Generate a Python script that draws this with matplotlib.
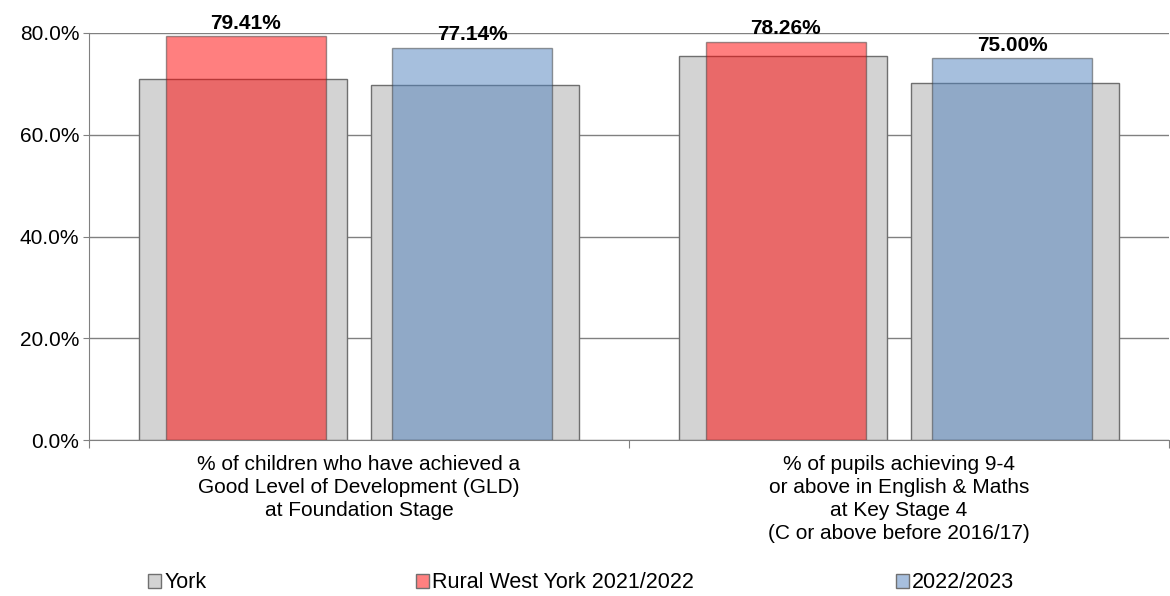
import numpy as np
import matplotlib
matplotlib.use("Agg")
import matplotlib.pyplot as plt
from matplotlib.patches import Patch
from matplotlib.ticker import FuncFormatter

plt.rcParams['font.family'] = ['Liberation Sans', 'DejaVu Sans']

categories = [
    "% of children who have achieved a\nGood Level of Development (GLD)\nat Foundation Stage",
    "% of pupils achieving 9-4\nor above in English & Maths\nat Key Stage 4\n(C or above before 2016/17)",
]
york_2122 = [70.9, 75.4]
york_2223 = [69.7, 70.2]
rural_2122 = [79.41, 78.26]
rural_2223 = [77.14, 75.00]
legend_labels = ["York", "Rural West York 2021/2022", "2022/2023"]

grey = "#d3d3d3"
red = "#ff0000"
blue = "#4f81bd"
edge = "#6f6f6f"

fig = plt.figure(figsize=(11.70, 5.96), dpi=100)
ax = fig.add_axes([89 / 1170, 1 - 440 / 596, (1169 - 89) / 1170, 407 / 596])

x = np.arange(len(categories))
off = 0.214
wide, narrow = 0.385, 0.296

y1 = np.array(york_2122) / 100
y2 = np.array(york_2223) / 100
r1 = np.array(rural_2122) / 100
r2 = np.array(rural_2223) / 100

ax.bar(x - off, y1, wide, color=grey, edgecolor=edge, linewidth=1, zorder=2)
ax.bar(x + off, y2, wide, color=grey, edgecolor=edge, linewidth=1, zorder=2)
red_bars = ax.bar(x - off + 0.004, r1, narrow, color=red, alpha=0.5, edgecolor="#3a3a3a",
                  linewidth=1, zorder=3)
blue_bars = ax.bar(x + off - 0.004, r2, narrow, color=blue, alpha=0.5, edgecolor="#3a3a3a",
                   linewidth=1, zorder=3)

for bars, vals in [(red_bars, rural_2122), (blue_bars, rural_2223)]:
    for b, v in zip(bars, vals):
        ax.annotate(f"{v:.2f}%", (b.get_x() + b.get_width() / 2, v / 100),
                    xytext=(0, 2.5), textcoords="offset points", ha="center",
                    va="bottom", fontsize=15, fontweight="bold", zorder=5,
                    annotation_clip=False)

ax.set_ylim(0, 0.8)
ax.set_xlim(-0.5, 1.5)
ax.set_yticks(np.arange(0, 0.81, 0.2))
ax.yaxis.set_major_formatter(FuncFormatter(lambda v, p: f"{v * 100:.1f}%"))
ax.yaxis.grid(True, color="#808080", linewidth=1, zorder=0)
ax.set_axisbelow(True)

ax.set_xticks([-0.5, 0.5, 1.5])
ax.set_xticklabels([])
ax.set_xticks(x, minor=True)
ax.set_xticklabels(categories, minor=True, fontsize=15, linespacing=1.25)
ax.tick_params(axis="x", which="major", length=6, color="#808080", direction="out")
ax.tick_params(axis="x", which="minor", length=0, pad=11)
ax.tick_params(axis="y", length=4, color="#808080", labelsize=15, pad=3)

for s in ["top", "right"]:
    ax.spines[s].set_visible(False)
for s in ["left", "bottom"]:
    ax.spines[s].set_color("#808080")

handle_colors = ["#d3d3d3", "#ff8080", "#a7bfde"]
legend_x = [148 / 1170, 416 / 1170, 896 / 1170]
for lab, col, lx in zip(legend_labels, handle_colors, legend_x):
    fig.legend(handles=[Patch(facecolor=col, edgecolor="#707070", linewidth=1)],
               labels=[lab], loc="center left", bbox_to_anchor=(lx, 1 - 583 / 596),
               frameon=False, fontsize=15.5, handlelength=0.6, handleheight=0.6,
               handletextpad=0.15, borderpad=0, borderaxespad=0)

fig.savefig("out.png", dpi=100)
